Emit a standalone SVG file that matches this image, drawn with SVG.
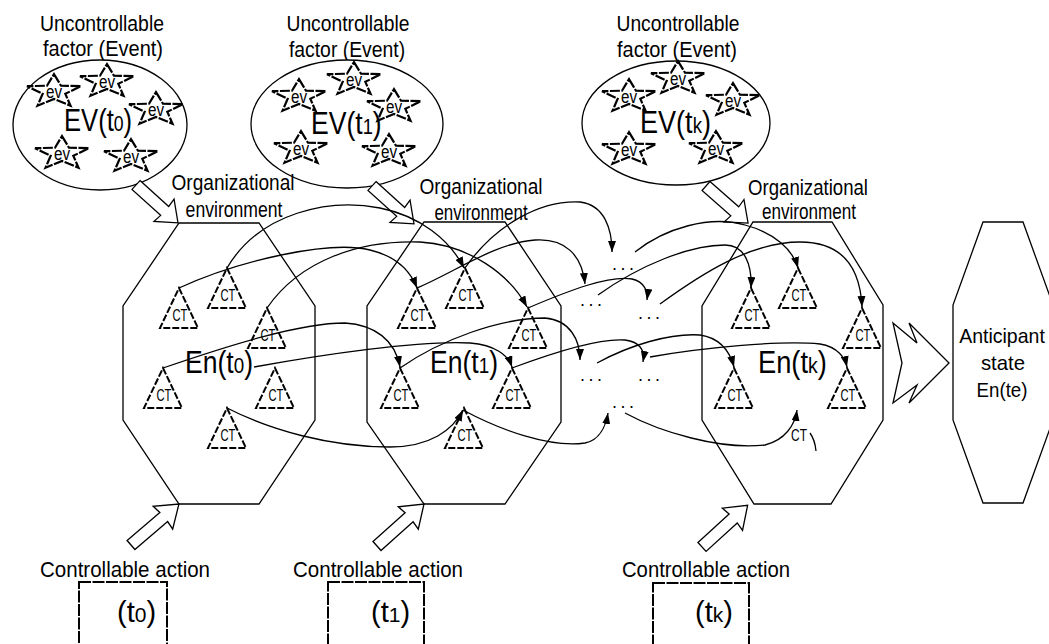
<svg xmlns="http://www.w3.org/2000/svg" xmlns:xlink="http://www.w3.org/1999/xlink" width="1049" height="644" viewBox="0 0 1049 644">
<style>
.t{font-family:"Liberation Sans",Arial,sans-serif;fill:#000}
.m{text-anchor:middle}
.l22{font-size:22px}
.ln{fill:none;stroke:#000;stroke-width:1.3}
.sh{fill:#fff;stroke:#000;stroke-width:1.3}
.con{fill:none;stroke:#000;stroke-width:1.3;marker-end:url(#ah)}
.star{fill:none;stroke:#000;stroke-width:2.2;stroke-dasharray:10 1.5;stroke-linejoin:miter}
.tri{fill:none;stroke:#000;stroke-width:2;stroke-dasharray:7 2}
.box{fill:none;stroke:#000;stroke-width:2;stroke-dasharray:12 1.5}
</style>
<defs>
<marker id="ah" markerUnits="userSpaceOnUse" markerWidth="11" markerHeight="8" refX="11" refY="4" orient="auto">
<path d="M0,0 L11,4 L0,8 z" fill="#000"/>
</marker>
<g id="star">
<polygon class="star" points="0,-17.5 7,-5.9 27,-5.4 11.3,2.2 16.5,14.1 0,7.3 -16.5,14.1 -11.3,2.2 -27,-5.4 -7,-5.9"/>
<text class="t m" transform="translate(0,6) scale(0.8,1)" font-size="19">ev</text>
</g>
<g id="ct">
<polygon class="tri" points="0,0 19,40 -19,40"/>
<text class="t m" transform="translate(1,33) scale(0.66,1)" font-size="17">CT</text>
</g>
<polygon id="barrow" points="0,-6 41,-6 40,-15 60,0 40,15 41,6 0,6"/>
</defs>

<!-- Event ellipses -->
<g id="ev0">
<text class="t m l22" transform="translate(102,31) scale(0.882,1)">Uncontrollable</text>
<text class="t m l22" transform="translate(103,56) scale(0.909,1)">factor (Event)</text>
<ellipse class="sh" cx="100" cy="125" rx="87" ry="65"/>
<use xlink:href="#star" x="54" y="91.6"/>
<use xlink:href="#star" x="107" y="81.6"/>
<use xlink:href="#star" x="156" y="109.6"/>
<use xlink:href="#star" x="62" y="153.6"/>
<use xlink:href="#star" x="131" y="156.6"/>
<text class="t" transform="translate(64,131) scale(0.8,1)" font-size="32">EV(t<tspan font-size="22">0</tspan>)</text>
</g>
<g id="ev1">
<text class="t m l22" transform="translate(348,31) scale(0.875,1)">Uncontrollable</text>
<text class="t m l22" transform="translate(347,57) scale(0.88,1)">factor (Event)</text>
<ellipse class="sh" cx="347" cy="124" rx="96" ry="64"/>
<use xlink:href="#star" x="299" y="96.6"/>
<use xlink:href="#star" x="354" y="79.6"/>
<use xlink:href="#star" x="394" y="106.6"/>
<use xlink:href="#star" x="301" y="148.6"/>
<use xlink:href="#star" x="389" y="151.6"/>
<text class="t" transform="translate(311,134) scale(0.83,1)" font-size="32">EV(t<tspan font-size="22">1</tspan>)</text>
</g>
<g id="ev2">
<text class="t m l22" transform="translate(678,31) scale(0.875,1)">Uncontrollable</text>
<text class="t m l22" transform="translate(677,57) scale(0.909,1)">factor (Event)</text>
<ellipse class="sh" cx="676" cy="123" rx="94" ry="62"/>
<use xlink:href="#star" x="629" y="96.6"/>
<use xlink:href="#star" x="678" y="78.6"/>
<use xlink:href="#star" x="733" y="100.6"/>
<use xlink:href="#star" x="629" y="149.6"/>
<use xlink:href="#star" x="716" y="148.6"/>
<text class="t" transform="translate(640,133) scale(0.846,1)" font-size="32">EV(t<tspan font-size="22">k</tspan>)</text>
</g>

<!-- Environment hexagons -->
<g id="en0">
<polygon class="ln" points="179,223 259,223 315,306 315,420 259,504 179,504 123,420 123,306"/>
<text class="t m l22" transform="translate(233,190) scale(0.867,1)">Organizational</text>
<text class="t m l22" transform="translate(234,217) scale(0.8,1)">environment</text>
<use xlink:href="#ct" x="179" y="288"/>
<use xlink:href="#ct" x="227" y="268"/>
<use xlink:href="#ct" x="267" y="308"/>
<use xlink:href="#ct" x="163" y="368"/>
<use xlink:href="#ct" x="275" y="368"/>
<use xlink:href="#ct" x="227" y="408"/>
<text class="t" transform="translate(185,373) scale(0.856,1)" font-size="31">En(t<tspan font-size="22">0</tspan>)</text>
</g>
<g id="en1">
<polygon class="ln" points="424,222 505,222 561,306 561,422 505,504 424,504 367,422 367,306"/>
<text class="t m l22" transform="translate(481,194) scale(0.867,1)">Organizational</text>
<text class="t m l22" transform="translate(481,220) scale(0.77,1)">environment</text>
<use xlink:href="#ct" x="417" y="288"/>
<use xlink:href="#ct" x="465" y="268"/>
<use xlink:href="#ct" x="528" y="308"/>
<use xlink:href="#ct" x="400" y="368"/>
<use xlink:href="#ct" x="512" y="368"/>
<use xlink:href="#ct" x="464" y="408"/>
<text class="t" transform="translate(430,373) scale(0.856,1)" font-size="31">En(t<tspan font-size="22">1</tspan>)</text>
</g>
<g id="en2">
<polygon class="ln" points="753,222 832,222 883,305 883,420 831,504 754,504 702,420 702,306"/>
<text class="t m l22" transform="translate(808,195) scale(0.846,1)">Organizational</text>
<text class="t m l22" transform="translate(809,219) scale(0.777,1)">environment</text>
<use xlink:href="#ct" x="751" y="288"/>
<use xlink:href="#ct" x="798" y="268"/>
<use xlink:href="#ct" x="862" y="308"/>
<use xlink:href="#ct" x="734" y="368"/>
<use xlink:href="#ct" x="847" y="368"/>
<text class="t" transform="translate(758,373) scale(0.88,1)" font-size="31">En(t<tspan font-size="22">k</tspan>)</text>
<text class="t m" transform="translate(799,441) scale(0.7,1)" font-size="17">CT</text>
<path class="ln" d="M810,433 Q815,440 816,451"/>
</g>

<!-- Intermediate states -->
<g id="dots">
<text class="t" x="612" y="270" font-size="18" textLength="22" lengthAdjust="spacing">...</text>
<text class="t" x="580" y="306" font-size="18" textLength="22" lengthAdjust="spacing">...</text>
<text class="t" x="638" y="319" font-size="18" textLength="22" lengthAdjust="spacing">...</text>
<text class="t" x="580" y="381" font-size="18" textLength="22" lengthAdjust="spacing">...</text>
<text class="t" x="638" y="381" font-size="18" textLength="22" lengthAdjust="spacing">...</text>
<text class="t" x="612" y="408" font-size="18" textLength="22" lengthAdjust="spacing">...</text>
</g>

<!-- Anticipant state -->
<g id="ante">
<polygon class="ln" points="983,222 1023,222 1053,305 1053,420 1023,503 983,503 953,420 953,305"/>
<text class="t m" transform="translate(1002,343) scale(0.93,1)" font-size="21">Anticipant</text>
<text class="t m" transform="translate(1003,370) scale(0.97,1)" font-size="21">state</text>
<text class="t m" transform="translate(1002,397) scale(0.89,1)" font-size="21">En(te)</text>
</g>
<g id="chevron">
<polygon class="sh" points="893,323 917,343 909,323 949,363 909,403 917,385 893,403 902,363"/>
</g>

<!-- Controllable actions -->
<g id="ca0">
<text class="t m l22" transform="translate(125,577) scale(0.934,1)">Controllable action</text>
<rect class="box" x="79" y="582" width="88" height="64"/>
<text class="t" x="117" y="622" font-size="29">(t<tspan font-size="21">0</tspan>)</text>
</g>
<g id="ca1">
<text class="t m l22" transform="translate(378,577) scale(0.934,1)">Controllable action</text>
<rect class="box" x="328" y="582" width="96" height="64"/>
<text class="t" x="371" y="622" font-size="29">(t<tspan font-size="21">1</tspan>)</text>
</g>
<g id="ca2">
<text class="t m l22" transform="translate(706,577) scale(0.923,1)">Controllable action</text>
<rect class="box" x="653" y="583" width="96" height="64"/>
<text class="t" x="695" y="622" font-size="29">(t<tspan font-size="21">k</tspan>)</text>
</g>

<!-- Block arrows -->
<g id="blockarrows" class="sh">
<use xlink:href="#barrow" transform="translate(136,185) rotate(42.1) scale(0.943,1)"/>
<use xlink:href="#barrow" transform="translate(372,186) rotate(42.1) scale(0.943,1)"/>
<use xlink:href="#barrow" transform="translate(706,186) rotate(41.4) scale(0.935,1)"/>
<use xlink:href="#barrow" transform="translate(131,545) rotate(-40.5) scale(1.05,1)"/>
<use xlink:href="#barrow" transform="translate(377,546) rotate(-41.8) scale(1.05,1)"/>
<use xlink:href="#barrow" transform="translate(702,547) rotate(-42.4) scale(1.03,1)"/>
</g>

<!-- Connectors -->
<g id="connectors">
<path class="con" d="M179,288 C240,260 330,240 370,250 C395,256 410,270 417,288"/>
<path class="con" d="M227,268 C260,212 330,198 380,208 C420,216 450,240 464,268"/>
<path class="con" d="M267,308 C300,260 360,240 420,242 C470,245 510,275 527,307"/>
<path class="con" d="M163,368 C230,345 300,323 345,323 C375,325 395,340 400,367"/>
<path class="con" d="M254,367 C320,355 420,340 470,343 C495,345 508,355 512,367"/>
<path class="con" d="M227,408 C270,430 330,447 390,447 C430,447 453,430 463,410"/>
<path class="con" d="M417,288 C455,272 495,243 535,240 C565,238 582,255 585,284"/>
<path class="con" d="M465,268 C495,225 540,200 580,202 C605,205 612,230 612,252"/>
<path class="con" d="M528,308 C570,290 610,275 632,279 C645,282 648,292 647,300"/>
<path class="con" d="M400,368 C440,340 500,318 545,318 C570,320 580,340 580,360"/>
<path class="con" d="M512,368 C560,350 600,338 625,340 C640,342 645,350 643,362"/>
<path class="con" d="M463,410 C500,430 550,448 585,443 C600,440 606,425 608,413"/>
<path class="con" d="M635,252 C665,228 710,215 745,225 C775,233 793,250 798,268"/>
<path class="con" d="M598,295 C640,265 690,245 725,245 C745,245 752,265 751,288"/>
<path class="con" d="M660,304 C700,275 750,242 800,242 C840,242 860,265 862,307"/>
<path class="con" d="M597,363 C630,345 670,333 700,335 C720,338 730,352 734,367"/>
<path class="con" d="M650,357 C700,348 780,340 820,344 C838,347 845,358 847,367"/>
<path class="con" d="M625,413 C660,432 720,450 765,445 C785,440 795,425 797,410"/>
</g>
</svg>
